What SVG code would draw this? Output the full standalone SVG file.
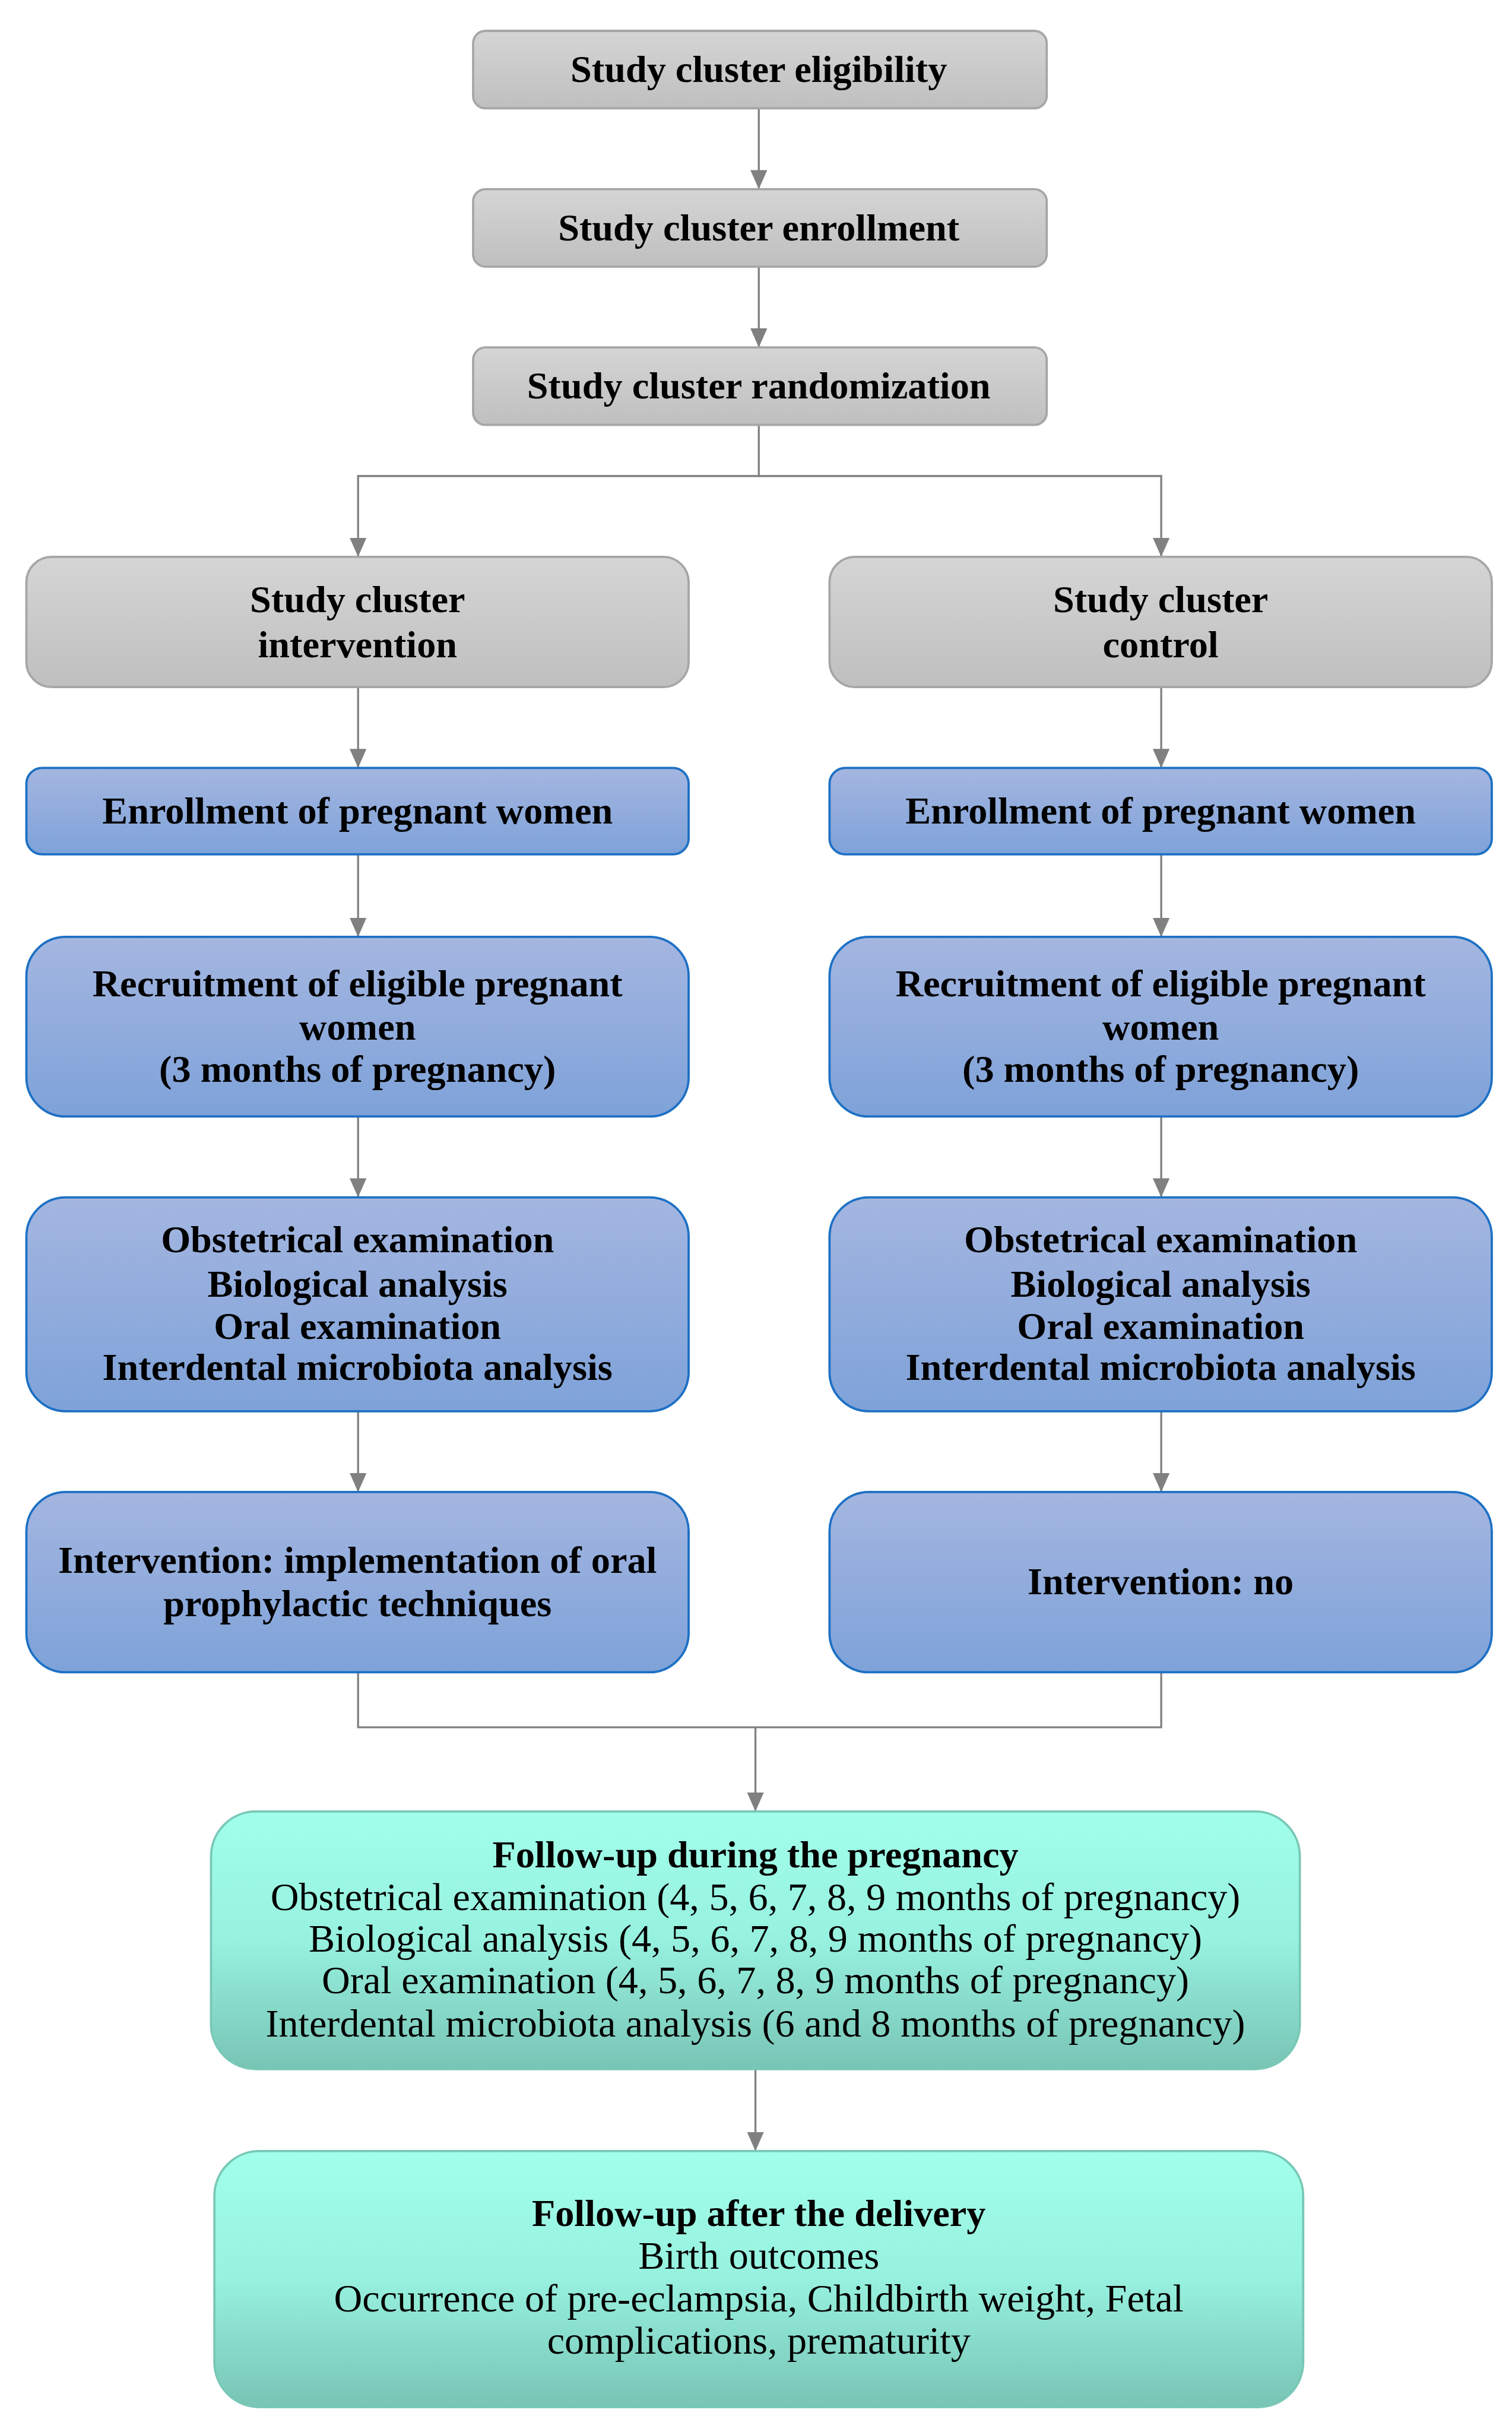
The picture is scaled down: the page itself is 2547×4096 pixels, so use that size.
<svg xmlns="http://www.w3.org/2000/svg" width="2547" height="4096" viewBox="0 0 2547 4096">
<style>
.t{font-family:"Liberation Serif","Times New Roman",serif;font-size:68px;fill:#000;text-anchor:middle}
.b{font-weight:bold}
.r{font-size:70px}
.gray{fill:url(#gGray);stroke:#a6a6a6;stroke-width:4}
.blue{fill:url(#gBlue);stroke:#1d70c4;stroke-width:4}
.teal{fill:url(#gTeal);stroke:#78c8b6;stroke-width:4}
.c{fill:none;stroke:#808080;stroke-width:3.5}
.a{marker-end:url(#arr)}
</style>
<defs>
<linearGradient id="gGray" x1="0" y1="0" x2="0" y2="1"><stop offset="0" stop-color="#d5d5d5"/><stop offset="1" stop-color="#bfbfbf"/></linearGradient>
<linearGradient id="gBlue" x1="0" y1="0" x2="0" y2="1"><stop offset="0" stop-color="#a4b6e0"/><stop offset="1" stop-color="#7ea2d9"/></linearGradient>
<linearGradient id="gTeal" x1="0" y1="0" x2="0" y2="1"><stop offset="0" stop-color="#a0ffea"/><stop offset="0.5" stop-color="#97f1df"/><stop offset="1" stop-color="#78c4b5"/></linearGradient>
<marker id="arr" markerUnits="userSpaceOnUse" markerWidth="34" markerHeight="30" viewBox="0 0 34 30" refX="34" refY="15" orient="auto"><path d="M0,0 L34,15 L0,30 z" fill="#808080"/></marker>
</defs>
<g transform="scale(0.94543)">
<g id="connectors">
<path class="c a" d="M1352,193 V337"/>
<path class="c a" d="M1352,475 V619"/>
<path class="c a" d="M1352,757 V848 H638 V992"/>
<path class="c a" d="M1352,848 H2069 V992"/>
<path class="c a" d="M638,1224 V1368"/>
<path class="c a" d="M2069,1224 V1368"/>
<path class="c a" d="M638,1522 V1669"/>
<path class="c a" d="M2069,1522 V1669"/>
<path class="c a" d="M638,1989 V2133"/>
<path class="c a" d="M2069,1989 V2133"/>
<path class="c a" d="M638,2514 V2658"/>
<path class="c a" d="M2069,2514 V2658"/>
<path class="c" d="M638,2979 V3077 H2069 V2979"/>
<path class="c a" d="M1346,3077 V3227"/>
<path class="c a" d="M1346,3686 V3832"/>
</g>
<g id="n1"><rect class="gray" x="843" y="55" width="1022" height="138" rx="22"/><text class="t b" x="1352" y="146">Study cluster eligibility</text></g>
<g id="n2"><rect class="gray" x="843" y="337" width="1022" height="138" rx="22"/><text class="t b" x="1352" y="428">Study cluster enrollment</text></g>
<g id="n3"><rect class="gray" x="843" y="619" width="1022" height="138" rx="22"/><text class="t b" x="1352" y="710">Study cluster randomization</text></g>
<g id="n4"><rect class="gray" x="47" y="992" width="1180" height="232" rx="45"/><text class="t b" x="637" y="1090">Study cluster</text><text class="t b" x="637" y="1171">intervention</text></g>
<g id="n5"><rect class="gray" x="1478" y="992" width="1180" height="232" rx="45"/><text class="t b" x="2068" y="1090">Study cluster</text><text class="t b" x="2068" y="1171">control</text></g>
<g id="n6"><rect class="blue" x="47" y="1368" width="1180" height="154" rx="28"/><text class="t b" x="637" y="1467">Enrollment of pregnant women</text></g>
<g id="n7"><rect class="blue" x="1478" y="1368" width="1180" height="154" rx="28"/><text class="t b" x="2068" y="1467">Enrollment of pregnant women</text></g>
<g id="n8"><rect class="blue" x="47" y="1669" width="1180" height="320" rx="70"/><text class="t b" x="637" y="1775">Recruitment of eligible pregnant</text><text class="t b" x="637" y="1852">women</text><text class="t b" x="637" y="1927">(3 months of pregnancy)</text></g>
<g id="n9"><rect class="blue" x="1478" y="1669" width="1180" height="320" rx="70"/><text class="t b" x="2068" y="1775">Recruitment of eligible pregnant</text><text class="t b" x="2068" y="1852">women</text><text class="t b" x="2068" y="1927">(3 months of pregnancy)</text></g>
<g id="n10"><rect class="blue" x="47" y="2133" width="1180" height="381" rx="70"/><text class="t b" x="637" y="2231">Obstetrical examination</text><text class="t b" x="637" y="2310">Biological analysis</text><text class="t b" x="637" y="2385">Oral examination</text><text class="t b" x="637" y="2458">Interdental microbiota analysis</text></g>
<g id="n11"><rect class="blue" x="1478" y="2133" width="1180" height="381" rx="70"/><text class="t b" x="2068" y="2231">Obstetrical examination</text><text class="t b" x="2068" y="2310">Biological analysis</text><text class="t b" x="2068" y="2385">Oral examination</text><text class="t b" x="2068" y="2458">Interdental microbiota analysis</text></g>
<g id="n12"><rect class="blue" x="47" y="2658" width="1180" height="321" rx="70"/><text class="t b" x="637" y="2802">Intervention: implementation of oral</text><text class="t b" x="637" y="2879">prophylactic techniques</text></g>
<g id="n13"><rect class="blue" x="1478" y="2658" width="1180" height="321" rx="70"/><text class="t b" x="2068" y="2840">Intervention: no</text></g>
<g id="n14"><rect class="teal" x="376" y="3227" width="1940" height="459" rx="80"/><text class="t b" x="1346" y="3327">Follow-up during the pregnancy</text><text class="t r" x="1346" y="3403">Obstetrical examination (4, 5, 6, 7, 8, 9 months of pregnancy)</text><text class="t r" x="1346" y="3477">Biological analysis (4, 5, 6, 7, 8, 9 months of pregnancy)</text><text class="t r" x="1346" y="3551">Oral examination (4, 5, 6, 7, 8, 9 months of pregnancy)</text><text class="t r" x="1346" y="3628">Interdental microbiota analysis (6 and 8 months of pregnancy)</text></g>
<g id="n15"><rect class="teal" x="382" y="3832" width="1940" height="456" rx="80"/><text class="t b" x="1352" y="3965">Follow-up after the delivery</text><text class="t r" x="1352" y="4042">Birth outcomes</text><text class="t r" x="1352" y="4118">Occurrence of pre-eclampsia, Childbirth weight, Fetal</text><text class="t r" x="1352" y="4193">complications, prematurity</text></g>
</g>
</svg>
